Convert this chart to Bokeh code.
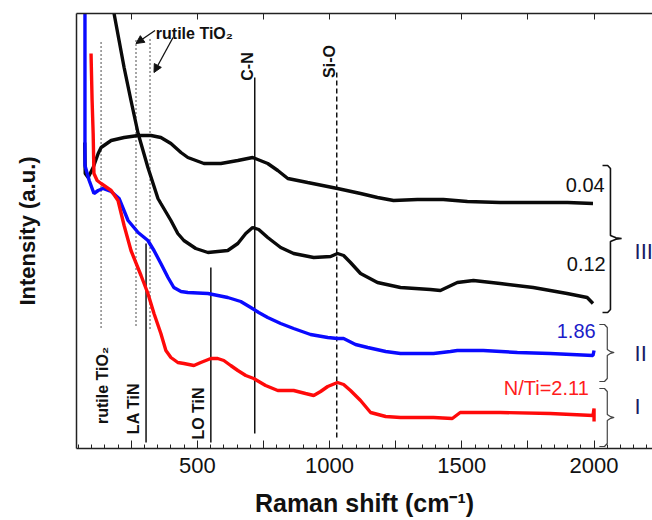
import numpy as np
from bokeh.plotting import figure
from bokeh.models import Range1d, LinearAxis, FixedTicker, ColumnDataSource, Arrow, NormalHead
from bokeh.core.properties import value
from bokeh.embed import file_html
from bokeh.resources import INLINE

FONT = "Liberation Sans"

# ---- spectra (Raman shift in cm^-1, intensity in arbitrary units, offset) ----
shift_004 = [74, 76, 87, 106, 125, 136, 174, 223, 276, 325, 362, 400, 438, 464, 525, 589, 653, 709,
             766, 804, 842, 917, 1030, 1117, 1181, 1242, 1332, 1430, 1521, 1645, 1770, 1900, 1996]
int_004 = [306, 275, 271, 281, 295, 301, 308, 311, 313, 313, 311, 305, 296, 291, 285, 285, 288, 291,
           285, 278, 270, 266, 260, 255, 251, 248, 249, 249, 247, 246, 246, 246, 245]

shift_012 = [174, 185, 204, 223, 249, 276, 313, 351, 362, 400, 426, 449, 494, 540, 615, 653, 683, 709,
             732, 766, 815, 864, 940, 1004, 1030, 1053, 1079, 1117, 1181, 1268, 1381, 1419, 1483, 1544,
             1645, 1770, 1898, 1974, 1996]
int_012 = [451, 435, 408, 381, 348, 315, 281, 250, 245, 228, 215, 208, 200, 196, 198, 205, 215, 221,
           219, 211, 201, 195, 191, 192, 195, 193, 186, 175, 166, 161, 159, 158, 166, 168,
           165, 161, 155, 151, 145]

shift_186 = [75, 75, 91, 109, 125, 143, 174, 204, 238, 276, 313, 336, 362, 389, 411, 438, 464, 540, 615,
             664, 702, 732, 766, 815, 864, 928, 993, 1030, 1053, 1098, 1144, 1212, 1268, 1393, 1457, 1483,
             1581, 1710, 1834, 1996, 2000]
int_186 = [450, 283, 268, 255, 258, 260, 257, 250, 228, 216, 208, 198, 185, 171, 161, 157, 156, 155, 151,
           147, 141, 136, 131, 125, 120, 114, 111, 110, 110, 104, 101, 97, 95, 95, 97, 98,
           98, 96, 95, 93, 98]

shift_211 = [98, 102, 106, 109, 121, 136, 174, 200, 223, 249, 287, 313, 336, 362, 381, 400, 426, 449, 487,
             513, 551, 577, 600, 626, 653, 683, 713, 758, 804, 864, 909, 940, 966, 993, 1030, 1053, 1079,
             1117, 1155, 1212, 1268, 1393, 1464, 1494, 1645, 1834, 1996, 2000, 2000]
int_211 = [395, 348, 315, 275, 268, 265, 258, 248, 223, 198, 173, 155, 135, 115, 98, 91, 86, 85, 83,
           86, 90, 90, 88, 83, 78, 73, 70, 63, 58, 58, 55, 53, 57, 62, 66, 64, 58,
           48, 36, 32, 31, 31, 30, 36, 36, 35, 33, 40, 27]

# ---- band markers ----
rutile_x = [136, 268, 321]
rutile_y0 = [121, 123, 120]
rutile_y1 = [406, 409, 409]
solid_x = [306, 551, 717]          # LA TiN, LO TiN, C-N
solid_y0 = [6, 6, 15]
solid_y1 = [205, 181, 371]
sio_x = [1027]
sio_y0 = [11]
sio_y1 = [378]

band_text = ["rutile TiO\u2082", "LA TiN", "LO TiN", "C-N", "Si-O"]
band_tx = [140, 260, 506, 691, 1000]
band_ty = [63, 40, 35, 382, 387]

# ---- sample labels ----
sample_text = ["0.04", "0.12", "1.86", "N/Ti=2.11"]
sample_x = [2040, 2044, 2006, 1980]
sample_y = [264, 185, 118, 61]
sample_col = ["#111111", "#111111", "#1c1cc8", "#ff1c1c"]

# ---- groups (braces) ----
group_text = ["III", "II", "I"]
group_x = [2062, 2050, 2050]
group_y0 = [136, 67, 2]
group_y1 = [283, 124, 60]
group_tip = [210, 96, 31]
group_col = ["#111111", "#444444", "#444444"]

x_ticks = [250, 500, 750, 1000, 1250, 1500, 1750, 2000]

p = figure(width=652, height=520, output_backend="svg", toolbar_location=None,
           x_range=Range1d(43, 2221), y_range=Range1d(0, 435),
           min_border_left=76, min_border_right=0, min_border_top=13, min_border_bottom=72)
p.outline_line_color = None
p.grid.visible = False
p.background_fill_color = "white"

# bottom axis
xa = p.xaxis[0]
xa.ticker = FixedTicker(ticks=x_ticks, minor_ticks=list(range(50, 2250, 50)))
xa.major_label_overrides = {250: "", 750: "", 1250: "", 1750: ""}
xa.major_tick_in = 8
xa.major_tick_out = 0
xa.minor_tick_in = 4
xa.minor_tick_out = 0
xa.axis_line_width = 1.5
xa.axis_line_color = "#222222"
xa.major_tick_line_color = "#222222"
xa.minor_tick_line_color = "#222222"
xa.major_label_text_font = FONT
xa.major_label_text_font_size = "22px"
xa.major_label_text_color = "#111111"
xa.major_label_standoff = 9
xa.axis_label = "Raman shift (cm\u207b\u00b9)"
xa.axis_label_text_font = FONT
xa.axis_label_text_font_size = "25px"
xa.axis_label_text_font_style = "bold"
xa.axis_label_text_color = "#111111"
xa.axis_label_standoff = 13

# left axis
ya = p.yaxis[0]
ya.ticker = FixedTicker(ticks=[])
ya.major_tick_in = 0
ya.major_tick_out = 0
ya.minor_tick_in = 0
ya.minor_tick_out = 0
ya.axis_line_width = 1.5
ya.axis_line_color = "#222222"
ya.axis_label = "Intensity (a.u.)"
ya.axis_label_text_font = FONT
ya.axis_label_text_font_size = "22px"
ya.axis_label_text_font_style = "bold"
ya.axis_label_text_color = "#111111"
ya.axis_label_standoff = 37

# top axis (ticks only: drawn as minor ticks so no labels are created)
top = LinearAxis(ticker=FixedTicker(ticks=[], minor_ticks=x_ticks),
                 major_tick_in=0, major_tick_out=0, minor_tick_in=6, minor_tick_out=0,
                 axis_line_width=1.5, axis_line_color="#222222", minor_tick_line_color="#222222")
p.add_layout(top, "above")

# markers
p.segment(x0=rutile_x, y0=rutile_y0, x1=rutile_x, y1=rutile_y1, line_color="#222222",
          line_width=1.6, line_dash="1 3")
p.segment(x0=solid_x, y0=solid_y0, x1=solid_x, y1=solid_y1, line_color="#111111", line_width=1.5)
p.segment(x0=sio_x, y0=sio_y0, x1=sio_x, y1=sio_y1, line_color="#111111", line_width=1.5, line_dash="5 3")

# spectra
p.line(shift_004, int_004, line_color="#0a0a0a", line_width=3.4)
p.line(shift_012, int_012, line_color="#0a0a0a", line_width=3.4)
p.line(shift_186, int_186, line_color="#0a0aff", line_width=3.4)
p.line(shift_211, int_211, line_color="#ff0a0a", line_width=3.4)

# band labels (rotated)
p.text(x=band_tx, y=band_ty, text=band_text, angle=np.pi / 2, text_align="center", text_baseline="middle",
       text_font=value(FONT), text_font_size=value("16px"), text_font_style="bold", text_color="#111111")
p.text(x=[343], y=[415], text=["rutile TiO\u2082"], text_align="left", text_baseline="middle",
       text_font=value(FONT), text_font_size=value("16px"), text_font_style="bold", text_color="#111111")

# arrows
for xs, ys, xe, ye in [(340, 418, 268, 405), (408, 411, 336, 376)]:
    p.add_layout(Arrow(end=NormalHead(size=8, fill_color="#111111", line_color="#111111", line_width=1),
                       x_start=xs, y_start=ys, x_end=xe, y_end=ye, line_width=1.3, line_color="#111111"))

# sample labels
src = ColumnDataSource(dict(x=sample_x, y=sample_y, t=sample_text, c=sample_col))
p.text(x="x", y="y", text="t", text_color="c", source=src, text_align="right", text_baseline="middle",
       text_font=value(FONT), text_font_size=value("20px"))

# braces
for xv, y0, y1, ym, col in zip(group_x, group_y0, group_y1, group_tip, group_col):
    hook = 30
    tip = 42 if y1 - y0 > 100 else 26
    bx = [xv - hook, xv - hook * 0.35, xv, xv, xv + tip * 0.5, xv + tip, xv + tip * 0.5, xv, xv,
          xv - hook * 0.35, xv - hook]
    by = [y1, y1, y1 - 3, ym + 3, ym + 0.8, ym, ym - 0.8, ym - 3, y0 + 3, y0, y0]
    p.line(bx, by, line_color=col, line_width=1.6 if col == "#111111" else 1.2)

p.text(x=[2153] * 3, y=[197, 95, 42], text=group_text, text_align="left", text_baseline="middle",
       text_font=value(FONT), text_font_size=value("22px"), text_color="#1b1b66")

open("out.html", "w").write(file_html(p, INLINE))
